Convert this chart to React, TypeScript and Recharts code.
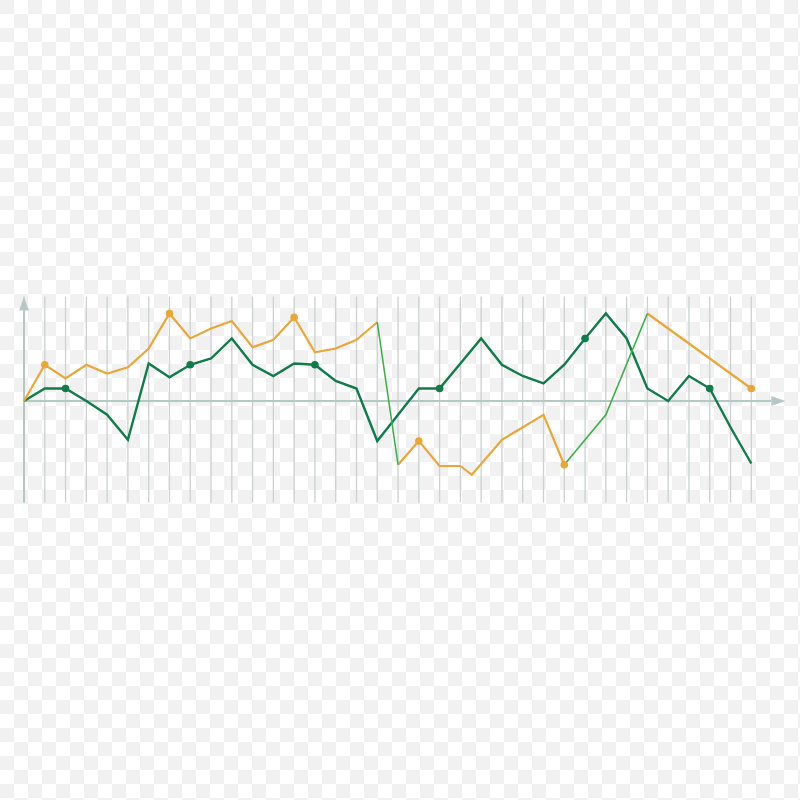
import React from "react";
import { LineChart, Line, XAxis, YAxis, ReferenceLine } from "recharts";

// x positions (grid columns) and values
const gridXs = Array.from({ length: 36 }, (_, i) => i);

const greenXs = [0, 1, 2, 3, 4, 5, 6, 7, 8, 9, 10, 11, 12, 13, 14, 15, 16, 17, 18, 19, 20, 21, 22, 23, 24, 25, 26, 27, 28, 29, 30, 31, 32, 33, 34, 35];
const greenValues = [0, 1, 1, 0, -1.1, -3.1, 3, 1.9, 2.9, 3.4, 5, 2.9, 2, 3, 2.9, 1.6, 1, -3.2, -1.1, 1, 1, 3, 5, 2.9, 2, 1.4, 2.9, 5, 7, 5, 1, 0, 2, 1, -2.1, -5];
const greenMarkers = [2, 8, 14, 20, 27, 33];

const orangeAXs = [0, 1, 2, 3, 4, 5, 6, 7, 8, 9, 10, 11, 12, 13, 14, 15, 16, 17];
const orangeAValues = [0, 2.9, 1.8, 2.9, 2.2, 2.7, 4.2, 7, 5, 5.8, 6.4, 4.3, 4.9, 6.7, 3.9, 4.2, 4.9, 6.3];
const orangeBXs = [18, 19, 20, 21, 21.55, 23, 25, 26];
const orangeBValues = [-5.1, -3.2, -5.2, -5.2, -5.9, -3.1, -1.1, -5.1];
const orangeCXs = [30, 35];
const orangeCValues = [7, 1];
const orangeMarkers = [1, 7, 13, 19, 26, 35];

const lightAXs = [17, 18];
const lightAValues = [6.3, -5.1];
const lightBXs = [26, 28, 30];
const lightBValues = [-5.1, -1.1, 7];

const zip = (xs: number[], ys: number[]) => xs.map((x, i) => ({ x, y: ys[i] }));

const greenData = zip(greenXs, greenValues);
const orangeAData = zip(orangeAXs, orangeAValues);
const orangeBData = zip(orangeBXs, orangeBValues);
const orangeCData = zip(orangeCXs, orangeCValues);
const lightAData = zip(lightAXs, lightAValues);
const lightBData = zip(lightBXs, lightBValues);

const GREEN = "#127a4b";
const ORANGE = "#e8a73d";
const LIGHT = "#3fae4c";
const AXIS = "#b7c7c4";
const GRID = "#cdd1d1";
const CHECK = "#f1f1f1";

const makeDot = (markers: number[], color: string, tag: string) => (props: any) => {
  const { cx, cy, payload, index } = props;
  if (!markers.includes(payload.x)) return <g key={`${tag}-${index}`} />;
  return <circle key={`${tag}-${index}`} cx={cx} cy={cy} r={3.8} fill={color} stroke="none" />;
};

const XArrow = (props: any) => {
  const { x1, x2, y1 } = props;
  const left = Math.min(x1, x2);
  const right = Math.max(x1, x2);
  const base = right + 20;
  const tip = right + 34;
  return (
    <g>
      <line x1={left} y1={y1} x2={base} y2={y1} stroke={AXIS} strokeWidth={2} />
      <polygon points={`${base},${y1 - 5} ${tip},${y1} ${base},${y1 + 5}`} fill={AXIS} />
    </g>
  );
};

const YArrow = (props: any) => {
  const { x1, y1, y2 } = props;
  const top = Math.min(y1, y2);
  const bottom = Math.max(y1, y2);
  const base = top + 14;
  const tip = top + 0.5;
  return (
    <g>
      <line x1={x1} y1={base} x2={x1} y2={bottom} stroke={AXIS} strokeWidth={2} />
      <polygon points={`${x1 - 5},${base} ${x1},${tip} ${x1 + 5},${base}`} fill={AXIS} />
    </g>
  );
};

export default function App() {
  return (
    <div
      style={{
        position: "absolute",
        left: 0,
        top: 0,
        width: 800,
        height: 800,
        backgroundColor: "#ffffff",
        backgroundImage: `linear-gradient(45deg, ${CHECK} 25%, transparent 25%, transparent 75%, ${CHECK} 75%), linear-gradient(45deg, ${CHECK} 25%, transparent 25%, transparent 75%, ${CHECK} 75%)`,
        backgroundSize: "28px 28px",
        backgroundPosition: "14px 0, 0 14px",
      }}
    >
      <LineChart width={800} height={800} margin={{ top: 296.5, right: 48.7, bottom: 297.5, left: 24 }}>
        <XAxis type="number" dataKey="x" domain={[0, 35]} hide />
        <YAxis type="number" dataKey="y" domain={[-8.12, 8.36]} hide />
        {gridXs.map((gx) => (
          <ReferenceLine key={`g${gx}`} x={gx} stroke={GRID} strokeWidth={1.3} />
        ))}
        <ReferenceLine y={0} shape={XArrow} />
        <ReferenceLine x={0} shape={YArrow} />
        <Line data={greenData} dataKey="y" type="linear" stroke={GREEN} strokeWidth={2.4} dot={makeDot(greenMarkers, GREEN, "gd")} activeDot={false} isAnimationActive={false} />
        <Line data={orangeAData} dataKey="y" type="linear" stroke={ORANGE} strokeWidth={2.2} dot={makeDot(orangeMarkers, ORANGE, "oa")} activeDot={false} isAnimationActive={false} />
        <Line data={orangeBData} dataKey="y" type="linear" stroke={ORANGE} strokeWidth={2.2} dot={makeDot(orangeMarkers, ORANGE, "ob")} activeDot={false} isAnimationActive={false} />
        <Line data={orangeCData} dataKey="y" type="linear" stroke={ORANGE} strokeWidth={2.2} dot={makeDot(orangeMarkers, ORANGE, "oc")} activeDot={false} isAnimationActive={false} />
        <Line data={lightAData} dataKey="y" type="linear" stroke={LIGHT} strokeWidth={1.6} dot={false} activeDot={false} isAnimationActive={false} />
        <Line data={lightBData} dataKey="y" type="linear" stroke={LIGHT} strokeWidth={1.6} dot={false} activeDot={false} isAnimationActive={false} />
      </LineChart>
    </div>
  );
}
